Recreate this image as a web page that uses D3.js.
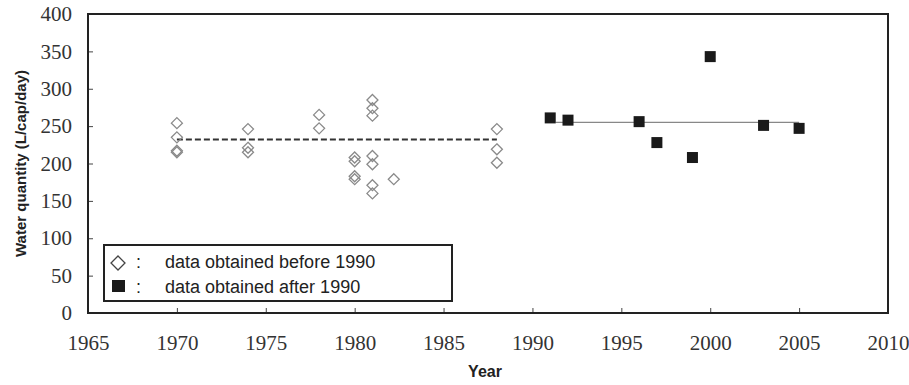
<!DOCTYPE html>
<html>
<head>
<script src="https://d3js.org/d3.v7.min.js"></script>
<style>
  body { margin: 0; background: #fff; }
</style>
</head>
<body>
<div id="chart"></div>
<script>
// before 1990 (open diamonds)
var beforeYears = [1970, 1970, 1970, 1970, 1974, 1974, 1974, 1978, 1978,
                   1980, 1980, 1980, 1980, 1981, 1981, 1981, 1981, 1981, 1981, 1981,
                   1982.2, 1988, 1988, 1988];
var beforeValues = [254, 235, 217, 215, 246, 221, 215, 265, 247,
                    208, 203, 183, 179, 285, 274, 264, 210, 199, 171, 160,
                    179, 246, 219, 201];
var beforeMean = 232;
var beforeSpan = [1970, 1988];

// after 1990 (filled squares)
var afterYears = [1991, 1992, 1996, 1997, 1999, 2000, 2003, 2005];
var afterValues = [261, 258, 256, 228, 208, 343, 251, 247];
var afterMean = 255;
var afterSpan = [1991.3, 2005];

var xTicks = [1965, 1970, 1975, 1980, 1985, 1990, 1995, 2000, 2005, 2010];
var yTicks = [0, 50, 100, 150, 200, 250, 300, 350, 400];
var legendLabels = ["data obtained before 1990", "data obtained after 1990"];

var width = 909, height = 385;
var plotL = 88, plotR = 888, plotT = 14, plotB = 313;

var svg = d3.select("#chart").append("svg")
  .attr("width", width).attr("height", height);

var x = d3.scaleLinear().domain([1965, 2010]).range([plotL, plotR]);
var y = d3.scaleLinear().domain([0, 400]).range([plotB, plotT]);

// axes
var xAxis = d3.axisBottom(x).tickValues(xTicks).tickFormat(d3.format("d"))
  .tickSizeInner(-5).tickSizeOuter(0).tickPadding(22);
var yAxis = d3.axisLeft(y).tickValues(yTicks)
  .tickSizeInner(-5).tickSizeOuter(0).tickPadding(16);

var gx = svg.append("g").attr("transform", "translate(0," + plotB + ")").call(xAxis);
var gy = svg.append("g").attr("transform", "translate(" + plotL + ",0)").call(yAxis);

[gx, gy].forEach(function(g) {
  g.select(".domain").remove();
  g.selectAll(".tick line").attr("stroke", "#444").attr("stroke-width", 1);
  g.selectAll(".tick text")
    .style("font-family", "'Liberation Serif', 'DejaVu Serif', serif")
    .style("font-size", "21px")
    .attr("fill", "#333");
});

// frame
svg.append("rect")
  .attr("x", plotL).attr("y", plotT)
  .attr("width", plotR - plotL).attr("height", plotB - plotT)
  .attr("fill", "none").attr("stroke", "#222").attr("stroke-width", 2);

// axis titles
svg.append("text")
  .attr("transform", "translate(26," + ((plotT + plotB) / 2) + ") rotate(-90)")
  .attr("text-anchor", "middle")
  .style("font-family", "'Liberation Sans', Arial, sans-serif")
  .style("font-size", "15px").style("font-weight", "bold")
  .attr("fill", "#222")
  .text("Water quantity (L/cap/day)");

svg.append("text")
  .attr("x", 485).attr("y", 377)
  .attr("text-anchor", "middle")
  .style("font-family", "'Liberation Sans', Arial, sans-serif")
  .style("font-size", "16px").style("font-weight", "bold")
  .attr("fill", "#222")
  .text("Year");

// mean lines
svg.append("line")
  .attr("x1", x(beforeSpan[0])).attr("x2", x(beforeSpan[1]))
  .attr("y1", y(beforeMean)).attr("y2", y(beforeMean))
  .attr("stroke", "#333").attr("stroke-width", 2)
  .attr("stroke-dasharray", "6,3");

svg.append("line")
  .attr("x1", x(afterSpan[0])).attr("x2", x(afterSpan[1]))
  .attr("y1", y(afterMean)).attr("y2", y(afterMean))
  .attr("stroke", "#888").attr("stroke-width", 1.3);

// diamonds
var diamond = "M0,-5.5L5.5,0L0,5.5L-5.5,0Z";
svg.append("g").selectAll("path")
  .data(beforeYears)
  .enter().append("path")
  .attr("d", diamond)
  .attr("transform", function(d, i) { return "translate(" + x(d) + "," + y(beforeValues[i]) + ")"; })
  .attr("fill", "none").attr("stroke", "#8a8a8a").attr("stroke-width", 1.3);

// squares
svg.append("g").selectAll("rect")
  .data(afterYears)
  .enter().append("rect")
  .attr("x", function(d) { return x(d) - 5.5; })
  .attr("y", function(d, i) { return y(afterValues[i]) - 5.5; })
  .attr("width", 11).attr("height", 11)
  .attr("fill", "#1a1a1a");

// legend
var lg = svg.append("g");
lg.append("rect")
  .attr("x", 104).attr("y", 245).attr("width", 348).attr("height", 56)
  .attr("fill", "#fff").attr("stroke", "#222").attr("stroke-width", 2);
lg.append("path").attr("d", "M0,-7L7,0L0,7L-7,0Z")
  .attr("transform", "translate(118,263)")
  .attr("fill", "none").attr("stroke", "#444").attr("stroke-width", 1.3);
lg.append("rect").attr("x", 112).attr("y", 280).attr("width", 13).attr("height", 12)
  .attr("fill", "#1a1a1a");
legendLabels.forEach(function(t, i) {
  var by = 268 + i * 25;
  lg.append("text").attr("x", 136).attr("y", by)
    .style("font-family", "'Liberation Sans', Arial, sans-serif")
    .style("font-size", "18px").attr("fill", "#222").text(":");
  lg.append("text").attr("x", 165).attr("y", by)
    .style("font-family", "'Liberation Sans', Arial, sans-serif")
    .style("font-size", "18px").attr("fill", "#222").text(t);
});
</script>
</body>
</html>
